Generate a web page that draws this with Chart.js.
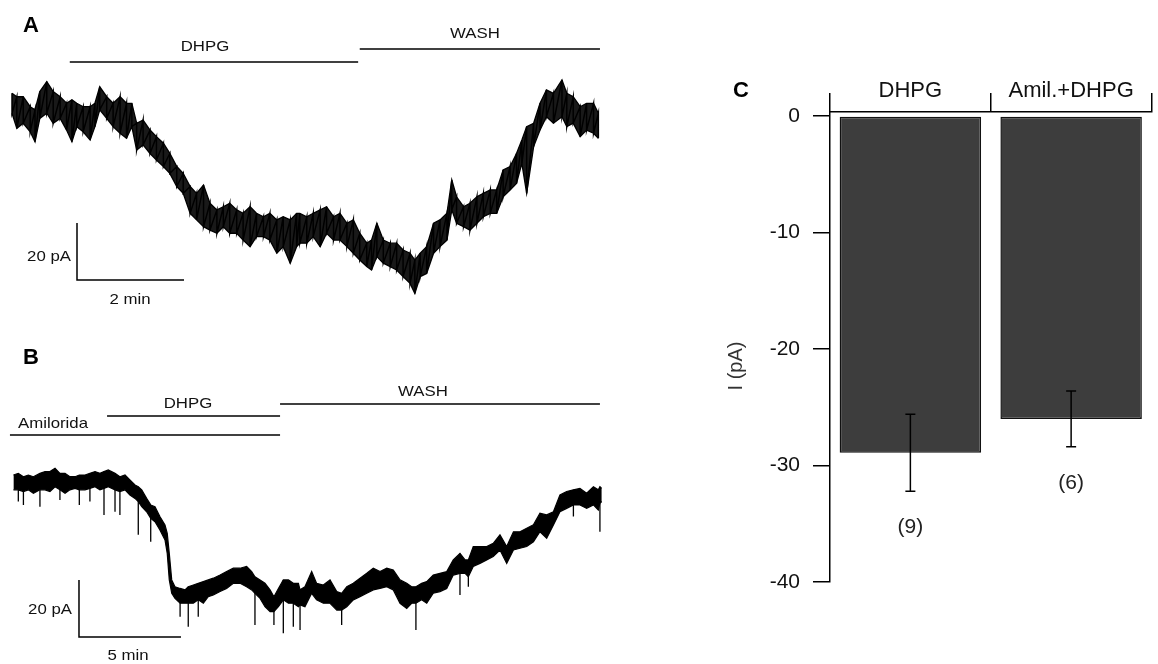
<!DOCTYPE html>
<html>
<head>
<meta charset="utf-8">
<script src="https://cdn.jsdelivr.net/npm/chart.js@4.4.0/dist/chart.umd.min.js"></script>
<style>
  body { margin: 0; background: #fff; width: 1158px; height: 664px; position: relative; overflow: hidden;
         font-family: "Liberation Sans", Arial, sans-serif; }
  canvas { position: absolute; }
  .t { position: absolute; font-size: 15px; color: #111; white-space: nowrap; line-height: 1;
       transform: translate(-50%, -50%) scaleX(1.12); }
  .p { position: absolute; font-size: 22px; font-weight: bold; line-height: 1; transform: translate(-50%, -50%); }
</style>
</head>
<body>
<canvas id="chartA" width="620" height="320" style="left:0;top:0"></canvas>
<canvas id="chartB" width="620" height="334" style="left:0;top:330px"></canvas>
<canvas id="chartC" width="458" height="664" style="left:700px;top:0"></canvas>

<div class="p" style="left:31px;top:25px">A</div>
<div class="t" style="left:205px;top:45px">DHPG</div>
<div class="t" style="left:475px;top:32px">WASH</div>
<div class="t" style="left:49px;top:255px">20 pA</div>
<div class="t" style="left:130px;top:298px">2 min</div>

<div class="p" style="left:31px;top:357px">B</div>
<div class="t" style="left:53px;top:422px">Amilorida</div>
<div class="t" style="left:188px;top:402px">DHPG</div>
<div class="t" style="left:423px;top:390px">WASH</div>
<div class="t" style="left:50px;top:608px">20 pA</div>
<div class="t" style="left:128px;top:654px">5 min</div>

<div class="p" style="left:741px;top:90px">C</div>
<div class="t" style="left:735px;top:366px;font-size:20px;color:#333;transform:translate(-50%,-50%) rotate(-90deg)">I (pA)</div>

<script>
// Panel A trace (time in min, current in pA relative to start), upper / lower edge of the noisy trace
const tA = [0.00, 0.09, 0.21, 0.34, 0.43, 0.52, 0.65, 0.77, 0.90, 1.02, 1.12, 1.21, 1.33, 1.46, 1.55, 1.64,
  1.77, 1.89, 2.02, 2.14, 2.24, 2.33, 2.45, 2.58, 2.70, 2.83, 2.95, 3.08, 3.20, 3.33, 3.45, 3.58, 3.70, 3.83,
  3.95, 4.07, 4.20, 4.32, 4.45, 4.57, 4.70, 4.82, 4.95, 5.07, 5.20, 5.32,
  5.38, 5.51, 5.63, 5.76, 5.88, 6.01, 6.13, 6.26, 6.38, 6.50, 6.63, 6.72, 6.82, 6.94, 7.07, 7.19, 7.31, 7.44,
  7.53, 7.63, 7.75, 7.88, 8.00, 8.13, 8.22, 8.31, 8.44, 8.56, 8.69, 8.81, 8.94, 9.06, 9.18, 9.31, 9.43, 9.53,
  9.62, 9.75, 9.87, 9.99, 10.12, 10.28, 10.37, 10.49, 10.62, 10.74, 10.87, 10.96];
const hiA = [0.0, -1.2, -1.2, -4.7, -5.8, 0.6, 4.1, 0.6, -1.2, -3.5, -2.3, -3.5, -4.7, -4.7, -3.5, 2.3,
  -1.2, -3.5, -1.2, -3.5, -3.5, -10.5, -9.4, -12.9, -15.2, -17.5, -21.1, -25.7, -28.1, -32.7, -35.1, -32.2, -38.6, -40.9,
  -39.8, -38.6, -40.9, -42.1, -39.8, -42.1, -43.3, -42.1, -44.4, -43.3, -44.4, -42.1,
  -42.1, -43.3, -42.1, -40.9, -39.8, -43.3, -42.1, -45.6, -44.4, -49.1, -52.6, -51.5, -45.6, -51.5, -52.6, -52.6, -55.0, -56.1,
  -58.5, -56.1, -53.8, -45.6, -44.4, -42.1, -30.4, -36.3, -39.8, -38.6, -36.3, -35.1, -33.9, -33.9, -26.9, -25.7, -21.1, -16.4,
  -11.7, -10.5, -3.5, 1.2, 0.0, 4.7, 0.0, -1.2, -4.7, -3.5, -3.5, -7.0];
const loA = [-7.0, -12.3, -10.5, -13.5, -17.0, -8.8, -7.0, -10.5, -8.8, -12.9, -17.0, -11.7, -13.5, -16.4, -11.7, -5.8,
  -8.8, -11.7, -14.0, -15.8, -11.7, -19.9, -18.1, -21.1, -23.4, -25.7, -28.1, -32.7, -35.1, -42.1, -44.4, -46.8, -48.0, -49.1,
  -46.8, -49.1, -49.1, -51.5, -53.8, -50.3, -50.3, -51.5, -56.1, -53.8, -59.6, -53.8,
  -52.6, -52.6, -50.3, -53.8, -49.1, -51.5, -51.5, -53.8, -56.1, -58.5, -60.8, -62.0, -57.3, -59.6, -60.8, -62.0, -64.3, -66.7,
  -70.2, -64.3, -63.2, -56.1, -53.8, -51.5, -40.9, -45.6, -46.8, -48.0, -45.6, -43.3, -42.1, -42.1, -36.3, -33.9, -31.6, -24.6,
  -35.1, -18.7, -12.9, -8.2, -10.5, -8.2, -11.7, -10.5, -15.2, -12.9, -14.0, -15.8];
const dhpgA = [1.08, 6.47];
const washA = [6.50, 10.99];

// Panel B trace: band edges plus the downward spikes
const tB = [0.07, 0.31, 0.56, 0.80, 1.05, 1.37, 1.62, 1.86, 2.11, 2.35, 2.60, 2.84, 3.09, 3.30, 3.58, 3.82, 4.07, 4.31,
  4.51, 4.72, 5.05, 5.29, 5.54, 5.78, 6.03, 6.19, 6.36, 6.60, 6.80, 7.01, 7.25, 7.50, 7.61, 7.71, 7.83, 7.99, 8.24, 8.48,
  8.64, 8.89, 9.13, 9.38, 9.62, 9.87, 10.20, 10.52, 10.85, 11.18, 11.50, 11.75, 11.91, 12.16, 12.40, 12.65, 12.84, 13.06,
  13.30, 13.55, 13.79, 14.04,
  14.12, 14.36, 14.69, 14.93, 15.26, 15.59, 15.92, 16.16, 16.41, 16.73, 17.06, 17.39, 17.71, 18.04, 18.37, 18.69, 19.02,
  19.35, 19.59, 19.80, 20.08, 20.33, 20.65, 20.98, 21.31, 21.63, 21.96, 22.21, 22.37, 22.61, 22.94, 23.27, 23.59, 23.92,
  24.25, 24.58, 24.90, 25.23, 25.56, 25.88, 26.21, 26.54, 26.86, 27.19, 27.52, 27.84, 28.17, 28.50, 28.74, 28.82, 28.91];
const hiB = [-0.6, 0.0, -1.2, -0.6, -1.2, 0.0, 0.6, 0.6, 1.8, 0.0, 0.0, -1.2, -1.2, -0.6, -0.6, 0.0, 0.6, 0.0,
  0.6, 1.2, 0.0, -1.2, -0.6, -2.3, -4.1, -4.7, -5.8, -8.8, -11.1, -11.7, -15.2, -18.1, -21.1, -28.1, -37.4, -39.8, -40.4, -40.9,
  -39.8, -39.2, -38.6, -38.0, -37.4, -36.8, -35.7, -34.5, -33.3, -33.3, -32.7, -34.5, -36.3, -37.4, -38.6, -40.9, -43.3, -40.4,
  -37.4, -37.4, -38.6, -38.6,
  -40.9, -39.8, -34.5, -38.6, -39.2, -37.4, -41.5, -42.1, -39.8, -38.6, -36.8, -35.1, -33.3, -34.5, -33.3, -33.9, -37.4,
  -38.6, -39.8, -39.8, -38.6, -38.0, -35.7, -35.1, -34.5, -30.4, -28.1, -30.4, -30.4, -25.7, -25.7, -25.7, -24.6, -21.6,
  -25.7, -20.5, -20.5, -19.3, -18.1, -14.0, -14.6, -13.5, -7.6, -6.4, -5.8, -5.3, -7.0, -4.7, -5.8, -4.7, -5.3];
const loB = [-5.8, -5.8, -6.4, -5.8, -7.0, -5.8, -5.8, -6.4, -4.7, -5.8, -7.0, -5.8, -5.3, -5.8, -5.8, -5.3, -4.7, -5.8,
  -5.3, -4.7, -5.8, -6.4, -5.8, -7.6, -8.8, -9.9, -11.7, -13.5, -15.8, -17.0, -19.9, -23.4, -28.1, -37.4, -42.1, -43.9, -45.6, -45.6,
  -45.6, -45.6, -44.4, -45.6, -43.3, -42.7, -41.5, -40.4, -38.6, -38.6, -39.8, -40.9, -42.1, -43.9, -46.8, -48.5, -48.5, -46.8,
  -44.4, -45.6, -45.6, -46.8,
  -46.2, -46.8, -42.1, -44.4, -45.6, -45.6, -48.0, -48.0, -46.8, -44.4, -43.3, -42.1, -40.9, -40.4, -39.8, -40.9, -45.6,
  -47.4, -45.6, -45.6, -44.4, -45.6, -42.1, -41.5, -40.4, -35.7, -35.1, -35.1, -36.3, -32.7, -31.6, -30.4, -29.2, -26.9,
  -31.6, -26.9, -26.3, -25.7, -24.0, -20.5, -22.8, -18.1, -13.5, -12.3, -11.1, -11.1, -12.3, -11.1, -12.9, -10.5, -9.9];
const spikeTB = [0.31, 0.56, 1.37, 2.35, 3.30, 3.82, 4.51, 5.05, 5.29, 6.19, 6.80, 8.24, 8.64, 9.13, 11.91, 12.84,
  13.30, 13.79, 14.12, 16.16, 19.80, 21.96, 22.37, 27.52, 28.82];
const spikeVB = [-9.9, -11.1, -11.7, -9.4, -11.1, -9.9, -14.6, -13.5, -14.6, -21.6, -24.0, -50.3, -53.8, -50.3, -53.2, -53.2,
  -56.1, -53.8, -55.0, -53.2, -55.0, -42.7, -39.8, -15.2, -20.5];
const amilB = [-0.10, 13.14];
const dhpgB = [4.66, 13.14];
const washB = [13.14, 28.82];

// Panel C bar chart
const groups = ["DHPG", "Amil.+DHPG"];
const means = [-28.9, -26.0];
const sems = [3.3, 2.4];
const nCounts = ["(9)", "(6)"];
const yTicksC = [-40, -30, -20, -10, 0];

const black = "#000";

function seg(points, width) {
  return { data: points, borderColor: black, borderWidth: width || 1.5, pointRadius: 0, fill: false };
}

function traceChart(id, xr, yr, datasets) {
  return new Chart(document.getElementById(id), {
    type: "line",
    data: { datasets: datasets },
    options: {
      responsive: false,
      animation: false,
      layout: { padding: 0 },
      plugins: { legend: { display: false }, tooltip: { enabled: false } },
      elements: { point: { radius: 0 }, line: { tension: 0 } },
      scales: {
        x: { type: "linear", display: false, min: xr[0], max: xr[1] },
        y: { type: "linear", display: false, min: yr[0], max: yr[1] }
      }
    }
  });
}

// A: filled envelope plus a sawtooth through the read peaks/troughs
const zigA = [];
tA.forEach((t, i) => { zigA.push({ x: t, y: hiA[i] }, { x: t, y: loA[i] }); });
traceChart("chartA", [-0.2243, 11.3645], [-79.54, 32.74], [
  { data: tA.map((t, i) => ({ x: t, y: hiA[i] })), borderColor: black, borderWidth: 1.3, pointRadius: 0,
    fill: "+1", backgroundColor: "rgba(0,0,0,0.9)" },
  { data: tA.map((t, i) => ({ x: t, y: loA[i] })), borderColor: black, borderWidth: 1.3, pointRadius: 0, fill: false },
  seg(zigA, 1.5),
  seg([{ x: dhpgA[0], y: 10.98 }, { x: dhpgA[1], y: 10.98 }]),
  seg([{ x: washA[0], y: 15.54 }, { x: washA[1], y: 15.54 }]),
  seg([{ x: 1.215, y: -45.5 }, { x: 1.215, y: -65.5 }, { x: 3.215, y: -65.5 }])
]);

// B: solid band + spikes
const spikePts = [];
spikeTB.forEach((t, i) => {
  const k = tB.indexOf(t);
  spikePts.push({ x: t, y: hiB[k] }, { x: t, y: spikeVB[i] }, { x: t, y: null });
});
traceChart("chartB", [-0.588, 29.804], [-66.91, 50.28], [
  { data: tB.map((t, i) => ({ x: t, y: hiB[i] })), borderColor: black, borderWidth: 1.2, pointRadius: 0,
    fill: "+1", backgroundColor: black },
  { data: tB.map((t, i) => ({ x: t, y: loB[i] })), borderColor: black, borderWidth: 1.2, pointRadius: 0, fill: false },
  Object.assign(seg(spikePts, 1.3), { spanGaps: false }),
  seg([{ x: amilB[0], y: 13.44 }, { x: amilB[1], y: 13.44 }]),
  seg([{ x: dhpgB[0], y: 20.1 }, { x: dhpgB[1], y: 20.1 }]),
  seg([{ x: washB[0], y: 24.3 }, { x: washB[1], y: 24.3 }]),
  seg([{ x: 3.284, y: -37.44 }, { x: 3.284, y: -57.44 }, { x: 8.284, y: -57.44 }])
]);

// C
const nLabels = {
  id: "nLabels",
  afterDatasetsDraw(chart) {
    const { ctx, scales: { x, y } } = chart;
    ctx.save();
    ctx.font = '21px "Liberation Sans", Arial, sans-serif';
    ctx.fillStyle = "#222";
    ctx.textAlign = "center";
    ctx.textBaseline = "middle";
    nCounts.forEach((n, i) => {
      ctx.fillText(n, x.getPixelForValue(i), y.getPixelForValue(means[i] - sems[i]) + 36);
    });
    ctx.restore();
  }
};

const errSets = groups.map((g, i) => ({
  type: "line",
  data: [{ x: g, y: means[i] + sems[i] }, { x: g, y: means[i] - sems[i] }],
  borderColor: black,
  borderWidth: 1.5,
  pointStyle: "line",
  pointRadius: 5,
  pointBorderWidth: 1.5,
  pointBorderColor: black,
  order: 1
}));

new Chart(document.getElementById("chartC"), {
  type: "bar",
  data: {
    labels: groups,
    datasets: [{
      data: means,
      backgroundColor: "#3d3d3d",
      borderColor: "#111",
      borderWidth: 1.5,
      borderSkipped: false,
      barPercentage: 0.88,
      categoryPercentage: 1,
      order: 2
    }].concat(errSets)
  },
  options: {
    responsive: false,
    animation: false,
    layout: { padding: { left: 0, right: 3, top: 0, bottom: 82 } },
    plugins: { legend: { display: false }, tooltip: { enabled: false } },
    scales: {
      x: {
        position: "top",
        afterFit: (s) => { s.height = 112; },
        grid: { offset: true, drawOnChartArea: false, drawTicks: true, tickLength: 19, color: black, lineWidth: 1.5 },
        border: { display: true, color: black, width: 1.5 },
        ticks: { padding: -11, color: "#111", maxRotation: 0, autoSkip: false,
                 font: { family: "Liberation Sans", size: 22 } }
      },
      y: {
        min: -40,
        max: 0.343,
        afterFit: (s) => { s.width = 130; },
        afterBuildTicks: (s) => { s.ticks = yTicksC.map(v => ({ value: v })); },
        grid: { drawOnChartArea: false, drawTicks: true, tickLength: 17, color: black, lineWidth: 1.5 },
        border: { display: true, color: black, width: 1.5 },
        ticks: { padding: 13, color: "#111", font: { family: "Liberation Sans", size: 21 } }
      }
    }
  },
  plugins: [nLabels]
});
</script>
</body>
</html>
